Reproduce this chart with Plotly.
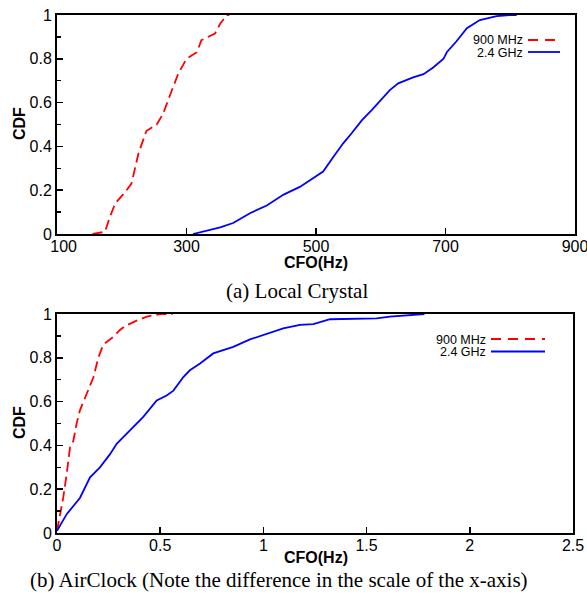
import plotly.graph_objects as go

# ---- data ----
a_red_x = [155, 174, 182, 190, 205, 215, 226, 238, 254, 264, 274, 287, 300, 316, 323, 344, 352, 362, 366]
a_red_y = [0, 0.01, 0.08, 0.14, 0.19, 0.23, 0.37, 0.47, 0.50, 0.55, 0.63, 0.73, 0.80, 0.83, 0.885, 0.915, 0.96, 1.0, 1.0]
a_blue_x = [310, 352, 372, 398, 424, 450, 475, 491, 511, 527, 542, 555, 571, 586, 599, 614, 627, 650,
            666, 681, 697, 702, 717, 733, 753, 779, 800, 810]
a_blue_y = [0, 0.03, 0.05, 0.095, 0.13, 0.18, 0.215, 0.247, 0.285, 0.353, 0.414, 0.46, 0.52, 0.566, 0.61,
            0.657, 0.688, 0.715, 0.73, 0.76, 0.80, 0.83, 0.88, 0.94, 0.977, 0.995, 1.0, 1.0]

b_red_x = [0, 0.015, 0.03, 0.047, 0.063, 0.079, 0.095, 0.111, 0.144, 0.176, 0.20, 0.224, 0.273, 0.305,
           0.33, 0.386, 0.435, 0.5, 0.56]
b_red_y = [0.01, 0.086, 0.16, 0.27, 0.39, 0.42, 0.50, 0.56, 0.636, 0.71, 0.80, 0.86, 0.896, 0.927,
           0.945, 0.97, 0.988, 1.0, 1.0]
b_blue_x = [0, 0.047, 0.111, 0.16, 0.208, 0.257, 0.289, 0.354, 0.418, 0.483, 0.531, 0.564, 0.612, 0.644,
            0.693, 0.757, 0.854, 0.935, 1.016, 1.096, 1.177, 1.242, 1.323, 1.549, 1.613, 1.743, 1.78]
b_blue_y = [0.01, 0.086, 0.16, 0.254, 0.30, 0.36, 0.407, 0.468, 0.53, 0.605, 0.628, 0.65, 0.712, 0.743,
            0.774, 0.82, 0.85, 0.884, 0.91, 0.934, 0.95, 0.954, 0.976, 0.98, 0.988, 1.0, 1.0]

a_xticks = [100, 300, 500, 700, 900]
a_xticklabels = ["\u00a0\u00a0\u00a0100", "300", "500", "700", "900"]
b_xticks = [0, 0.5, 1, 1.5, 2, 2.5]
b_xticklabels = ["0", "0.5", "1", "1.5", "2", "2.5"]
y_ticks = [0, 0.2, 0.4, 0.6, 0.8, 1]
y_ticklabels = ["0", "0.2", "0.4", "0.6", "0.8", "1"]
series_names = ["900 MHz", "2.4 GHz"]
captions = ["(a) Local Crystal", "(b) AirClock (Note the difference in the scale of the x-axis)"]

W, H = 587, 595
def px(x):
    return x / W
def py(y):
    return 1 - y / H

RED = "#ff0000"
BLUE = "#0000ff"
DASH = "10px,5px"

fig = go.Figure()
fig.add_trace(go.Scatter(x=a_red_x, y=a_red_y, mode="lines", line=dict(color=RED, width=1.8, dash=DASH),
                         xaxis="x", yaxis="y", showlegend=False, hoverinfo="skip"))
fig.add_trace(go.Scatter(x=a_blue_x, y=a_blue_y, mode="lines", line=dict(color=BLUE, width=1.8),
                         xaxis="x", yaxis="y", showlegend=False, hoverinfo="skip"))
fig.add_trace(go.Scatter(x=b_red_x, y=b_red_y, mode="lines", line=dict(color=RED, width=1.8, dash=DASH),
                         xaxis="x2", yaxis="y2", showlegend=False, hoverinfo="skip"))
fig.add_trace(go.Scatter(x=b_blue_x, y=b_blue_y, mode="lines", line=dict(color=BLUE, width=1.8),
                         xaxis="x2", yaxis="y2", showlegend=False, hoverinfo="skip"))

tickfont = dict(family="Liberation Sans, Arial, sans-serif", size=16, color="black")
common = dict(showline=True, linecolor="black", linewidth=2, mirror=True, ticks="inside",
              ticklen=6, tickwidth=1.5, tickcolor="black", showgrid=False, zeroline=False,
              tickfont=tickfont, automargin=False, ticklabeloverflow="allow")

fig.update_layout(
    width=W, height=H, autosize=False,
    margin=dict(l=0, r=0, t=0, b=0, autoexpand=False),
    paper_bgcolor="white", plot_bgcolor="white",
    xaxis=dict(domain=[px(57), px(575)], range=[100, 900], tickvals=a_xticks, ticktext=a_xticklabels,
               anchor="y", ticklabelstandoff=-3, **common),
    yaxis=dict(domain=[py(234), py(15)], range=[0, 1], tickvals=y_ticks, ticktext=y_ticklabels, anchor="x",
               minor=dict(ticks="inside", dtick=0.1, ticklen=4, tickwidth=1.5, tickcolor="black"), **common),
    xaxis2=dict(domain=[px(57), px(573)], range=[0, 2.5], tickvals=b_xticks, ticktext=b_xticklabels,
                anchor="y2", ticklabelstandoff=-3, **common),
    yaxis2=dict(domain=[py(533), py(314)], range=[0, 1], tickvals=y_ticks, ticktext=y_ticklabels, anchor="x2",
                minor=dict(ticks="inside", dtick=0.1, ticklen=4, tickwidth=1.5, tickcolor="black"), **common),
)

bold = dict(family="Liberation Sans, Arial, sans-serif", size=16, color="black")
serif = dict(family="Liberation Serif, Times New Roman, serif", size=21, color="black")
legfont = dict(family="Liberation Sans, Arial, sans-serif", size=12.5, color="black")

anns = []
# axis titles
for yc in (262, 557):
    anns.append(dict(x=px(316), y=py(yc), xref="paper", yref="paper", text="<b>CFO(Hz)</b>",
                     showarrow=False, font=bold, xanchor="center", yanchor="middle"))
for yc in (124, 423):
    anns.append(dict(x=px(19), y=py(yc), xref="paper", yref="paper", text="<b>CDF</b>", textangle=-90,
                     showarrow=False, font=bold, xanchor="center", yanchor="middle"))
# captions
anns.append(dict(x=px(297), y=py(291), xref="paper", yref="paper", text=captions[0], showarrow=False,
                 font=serif, xanchor="center", yanchor="middle"))
anns.append(dict(x=px(279), y=py(580), xref="paper", yref="paper", text=captions[1], showarrow=False,
                 font=serif, xanchor="center", yanchor="middle"))

shapes = []
# legends
legends = [
    dict(tx=524, y1=40, y2=52, lx0=528, lx1=560),
    dict(tx=487, y1=339, y2=351.5, lx0=491, lx1=545),
]
for lg in legends:
    for name, yy, col, dash in [(series_names[0], lg["y1"], RED, "dash"), (series_names[1], lg["y2"], BLUE, "solid")]:
        anns.append(dict(x=px(lg["tx"]), y=py(yy), xref="paper", yref="paper", text=name, showarrow=False,
                         font=legfont, xanchor="right", yanchor="middle", height=11, valign="middle",
                         borderpad=0))
        shapes.append(dict(type="line", xref="paper", yref="paper", x0=px(lg["lx0"]), x1=px(lg["lx1"]),
                           y0=py(yy), y1=py(yy), line=dict(color=col, width=1.8,
                                                            dash=("10px,7px" if dash == "dash" else "solid"))))

fig.update_layout(annotations=anns, shapes=shapes)
fig.write_html("out.html", config={"displayModeBar": False, "staticPlot": True},
               post_script="document.body.style.margin='0px';document.body.style.padding='0px';")
